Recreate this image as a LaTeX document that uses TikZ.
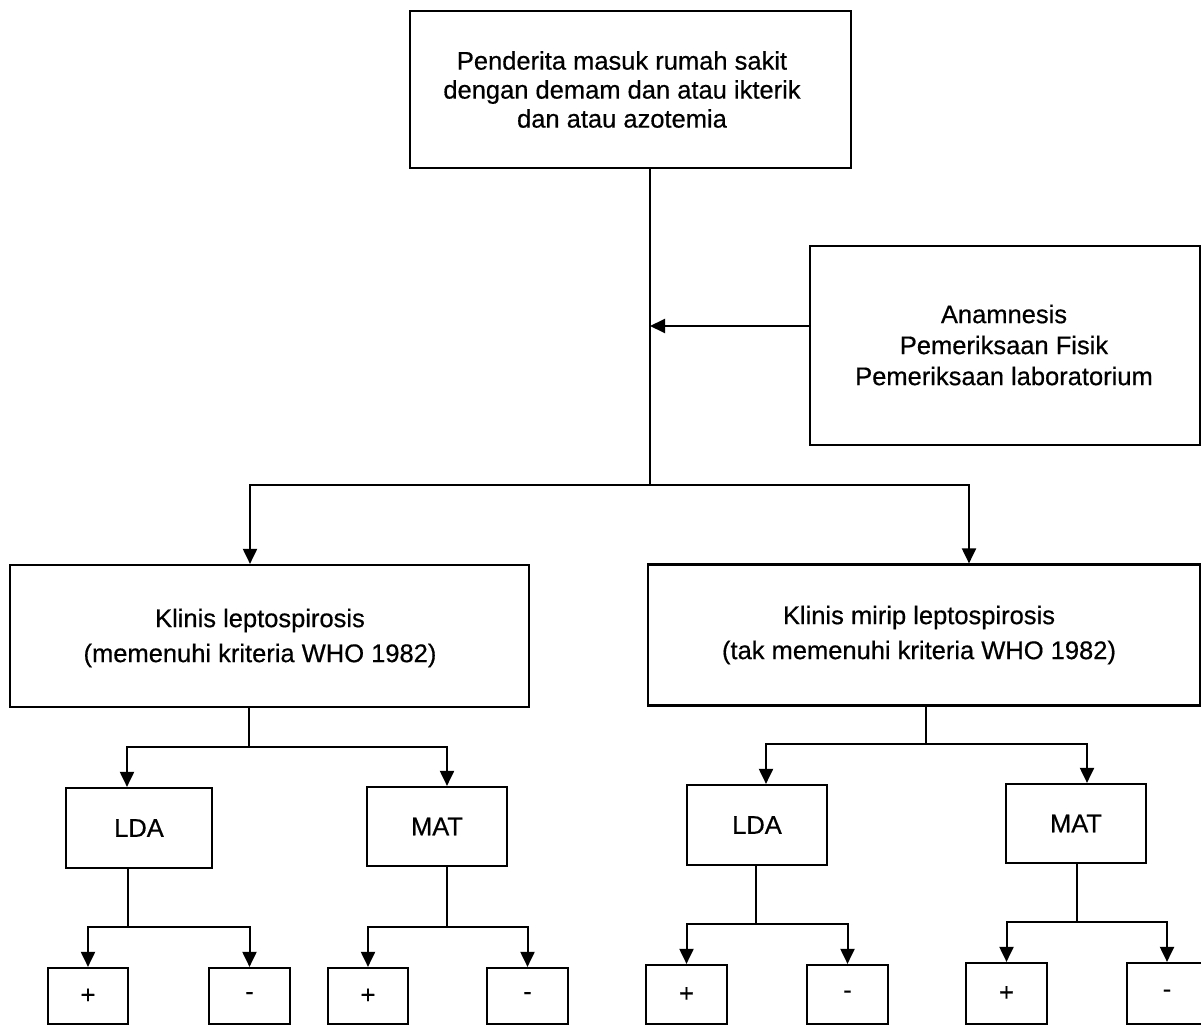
\documentclass[tikz,border=0pt]{standalone}
\usepackage{fontspec}
\setmainfont{Liberation Sans}
\newfontfamily\scanfont{Liberation Sans}[FakeBold=0.5]
\usetikzlibrary{arrows.meta}
\begin{document}
\begin{tikzpicture}[x=1pt,y=-1pt,
  box/.style={draw, line width=2.2pt, rectangle, inner sep=0pt, font=\scanfont\fontsize{25.5}{29}\selectfont},
  txt/.style={align=center, inner sep=0pt},
  conn/.style={line width=2pt},
  arr/.style={conn, -{Triangle[length=15pt,width=14pt]}}]
\useasboundingbox (0,0) rectangle (1201,1027);

% boxes
\node[box, minimum width=441pt, minimum height=157pt] (top) at (630.5,89.5) {};
\node[box, minimum width=390pt, minimum height=199pt] (anam) at (1005,345.5) {};
\node[box, minimum width=519pt, minimum height=142pt] (klL) at (269.5,636) {};
\node[box, minimum width=552pt, minimum height=141pt] (klR) at (924,635) {};

\node[txt, font=\scanfont\fontsize{25.5}{29}\selectfont] (toptxt) at (622,89.5)
  {Penderita masuk rumah sakit\\dengan demam dan atau ikterik\\dan atau azotemia};
\node[txt, font=\scanfont\fontsize{25.5}{31}\selectfont] (anamtxt) at (1004,345)
  {Anamnesis\\Pemeriksaan Fisik\\Pemeriksaan laboratorium};
\node[txt, font=\scanfont\fontsize{25.5}{35}\selectfont] (klLtxt) at (260,638)
  {Klinis leptospirosis\\(memenuhi kriteria WHO 1982)};
\node[txt, font=\scanfont\fontsize{25.5}{35}\selectfont] (klRtxt) at (919,635)
  {Klinis mirip leptospirosis\\(tak memenuhi kriteria WHO 1982)};

\node[box, minimum width=146pt, minimum height=80pt] (lda1) at (139,828) {LDA};
\node[box, minimum width=140pt, minimum height=79pt] (mat1) at (437,826.5) {MAT};
\node[box, minimum width=140pt, minimum height=80pt] (lda2) at (757,825) {LDA};
\node[box, minimum width=140pt, minimum height=79pt] (mat2) at (1076,823.5) {MAT};

\node[box, minimum width=80pt, minimum height=56pt] (p1) at (88,996) {+};
\node[box, minimum width=81pt, minimum height=56pt] (m1) at (249.5,996) {-};
\node[box, minimum width=80pt, minimum height=56pt] (p2) at (368,996) {+};
\node[box, minimum width=81pt, minimum height=56pt] (m2) at (527.5,996) {-};
\node[box, minimum width=81pt, minimum height=59pt] (p3) at (686.5,994.5) {+};
\node[box, minimum width=81pt, minimum height=59pt] (m3) at (847.5,994.5) {-};
\node[box, minimum width=81pt, minimum height=61pt] (p4) at (1006.5,993.5) {+};
\node[box, minimum width=80pt, minimum height=61pt] (m4) at (1167,993.5) {-};

% connectors
\coordinate (j0) at (650,485);
\coordinate (ja) at (650,326);
\draw[conn] (top.south -| j0) -- (j0);
\draw[arr] (anam.west |- ja) -- (ja);
\draw[arr] (j0) -| ([xshift=-19.5pt]klL.north);
\draw[arr] (j0) -| ([xshift=45pt]klR.north);

\coordinate (jL) at (249,747);
\draw[conn] (klL.south -| jL) -- (jL);
\draw[arr] (jL) -| ([xshift=-12pt]lda1.north);
\draw[arr] (jL) -| ([xshift=10pt]mat1.north);

\coordinate (jR) at (926,744);
\draw[conn] (klR.south -| jR) -- (jR);
\draw[arr] (jR) -| ([xshift=9pt]lda2.north);
\draw[arr] (jR) -| ([xshift=11pt]mat2.north);

\coordinate (jl1) at (128,927);
\draw[conn] (lda1.south -| jl1) -- (jl1);
\draw[arr] (jl1) -| (p1.north);
\draw[arr] (jl1) -| (m1.north);

\coordinate (jm1) at (447,927);
\draw[conn] (mat1.south -| jm1) -- (jm1);
\draw[arr] (jm1) -| (p2.north);
\draw[arr] (jm1) -| (m2.north);

\coordinate (jl2) at (756,924);
\draw[conn] (lda2.south -| jl2) -- (jl2);
\draw[arr] (jl2) -| (p3.north);
\draw[arr] (jl2) -| (m3.north);

\coordinate (jm2) at (1077,922);
\draw[conn] (mat2.south -| jm2) -- (jm2);
\draw[arr] (jm2) -| (p4.north);
\draw[arr] (jm2) -| (m4.north);
\end{tikzpicture}
\end{document}
